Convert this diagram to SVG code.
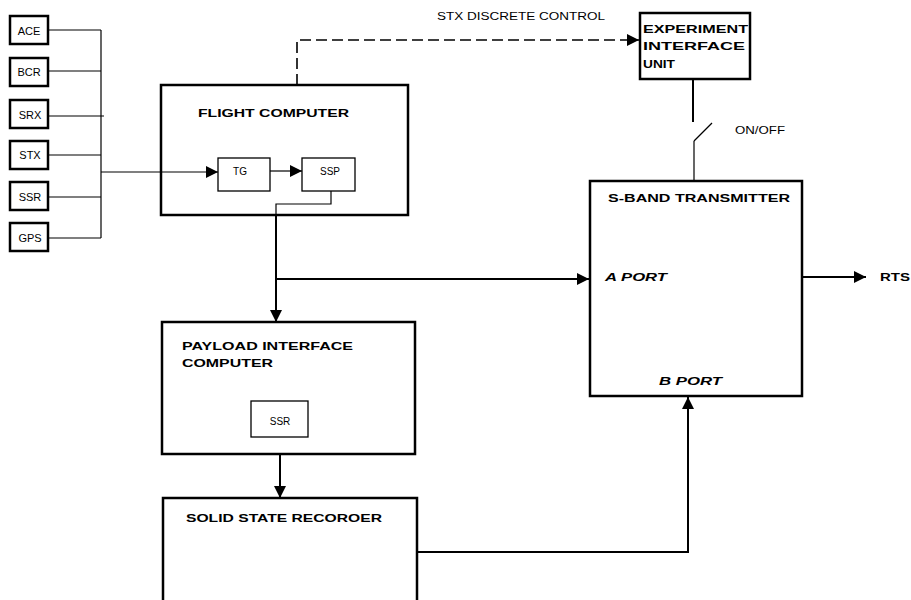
<svg xmlns="http://www.w3.org/2000/svg" width="911" height="600" viewBox="0 0 911 600">
<defs>
<style>
.box{fill:#fff;stroke:#000;stroke-width:2.5}
.ibox{fill:#fff;stroke:#000;stroke-width:1.3}
.sbox{fill:#fff;stroke:#000;stroke-width:2.5}
.t{font-family:"Liberation Sans",Arial,sans-serif;fill:#000}
.h{font-weight:bold;font-size:11.5px}
.s{font-size:10px}
.l{font-size:11px}
.it{font-weight:bold;font-style:italic;font-size:11px}
.c{fill:none;stroke:#000;stroke-width:2}
.cn{fill:none;stroke:#000;stroke-width:1.2}
.d{fill:none;stroke:#000;stroke-width:1.6;stroke-dasharray:11 5}
</style>
<marker id="ah" markerUnits="userSpaceOnUse" markerWidth="12" markerHeight="12" viewBox="0 0 12 12" refX="12" refY="6" orient="auto">
<path d="M0,0 L12,6 L0,12 Z" fill="#000"/>
</marker>
</defs>
<rect width="911" height="600" fill="#fff"/>

<g id="ace"><rect class="sbox" x="10" y="16" width="38" height="28"/><text class="t l" x="29" y="35" text-anchor="middle">ACE</text></g>
<g id="bcr"><rect class="sbox" x="10" y="58" width="38" height="28"/><text class="t l" x="29" y="76" text-anchor="middle">BCR</text></g>
<g id="srx"><rect class="sbox" x="10" y="100" width="38" height="28"/><text class="t l" x="30" y="119" text-anchor="middle">SRX</text></g>
<g id="stx"><rect class="sbox" x="10" y="141" width="38" height="28"/><text class="t l" x="30" y="159" text-anchor="middle">STX</text></g>
<g id="ssr-sensor"><rect class="sbox" x="10" y="182" width="38" height="28"/><text class="t l" x="30" y="201" text-anchor="middle">SSR</text></g>
<g id="gps"><rect class="sbox" x="10" y="223" width="38" height="28"/><text class="t l" x="30" y="242" text-anchor="middle">GPS</text></g>

<g id="flight-computer">
<rect class="box" x="161" y="85" width="247" height="130"/>
<text class="t h" x="198" y="117" textLength="151" lengthAdjust="spacingAndGlyphs">FLIGHT COMPUTER</text>
</g>
<g id="tg"><rect class="ibox" x="218" y="158" width="52" height="33"/><text class="t s" x="240" y="175" text-anchor="middle">TG</text></g>
<g id="ssp"><rect class="ibox" x="302" y="158" width="53" height="33"/><text class="t s" x="330" y="175" text-anchor="middle">SSP</text></g>

<text class="t s" x="437" y="20" textLength="168" lengthAdjust="spacingAndGlyphs">STX DISCRETE CONTROL</text>

<g id="experiment-interface-unit">
<rect class="box" x="640" y="13" width="110" height="66"/>
<text class="t h" x="643" y="33" textLength="105" lengthAdjust="spacingAndGlyphs">EXPERIMENT</text>
<text class="t h" x="643" y="50" textLength="102" lengthAdjust="spacingAndGlyphs">INTERFACE</text>
<text class="t h" x="643" y="68" textLength="32" lengthAdjust="spacingAndGlyphs">UNIT</text>
</g>

<text class="t s" x="735" y="134" textLength="50" lengthAdjust="spacingAndGlyphs">ON/OFF</text>

<g id="s-band-transmitter">
<rect class="box" x="590" y="181" width="212" height="215"/>
<text class="t h" x="608" y="202" textLength="182" lengthAdjust="spacingAndGlyphs">S-BAND TRANSMITTER</text>
<text class="t it" x="605" y="281" textLength="62" lengthAdjust="spacingAndGlyphs">A PORT</text>
<text class="t it" x="659" y="385" textLength="63" lengthAdjust="spacingAndGlyphs">B PORT</text>
</g>

<text class="t h" x="880" y="281" textLength="30" lengthAdjust="spacingAndGlyphs">RTS</text>

<g id="payload-interface-computer">
<rect class="box" x="162" y="322" width="253" height="132"/>
<text class="t h" x="182" y="350" textLength="171" lengthAdjust="spacingAndGlyphs">PAYLOAD INTERFACE</text>
<text class="t h" x="182" y="367" textLength="91" lengthAdjust="spacingAndGlyphs">COMPUTER</text>
</g>
<g id="ssr-inner"><rect class="ibox" x="251" y="401" width="57" height="36"/><text class="t s" x="280" y="425" text-anchor="middle">SSR</text></g>

<g id="solid-state-recorder">
<rect class="box" x="163" y="498" width="254" height="110"/>
<text class="t h" x="186" y="522" textLength="196" lengthAdjust="spacingAndGlyphs">SOLID STATE RECOROER</text>
</g>

<g id="connectors">
<g id="sensor-bus">
<line class="cn" x1="48" y1="30" x2="101" y2="30"/>
<line class="cn" x1="48" y1="71" x2="101" y2="71"/>
<line class="cn" x1="48" y1="116" x2="104" y2="116"/>
<line class="cn" x1="48" y1="155" x2="101" y2="155"/>
<line class="cn" x1="48" y1="197" x2="101" y2="197"/>
<line class="cn" x1="48" y1="238" x2="101" y2="238"/>
<line class="cn" x1="101" y1="30" x2="101" y2="238"/>
<line class="cn" x1="101" y1="172" x2="218" y2="172" marker-end="url(#ah)"/>
</g>
<line class="cn" x1="270" y1="171" x2="302" y2="171" marker-end="url(#ah)"/>
<polyline class="cn" points="331,191 331,204 276,204 276,215"/>
<line class="c" x1="276" y1="215" x2="276" y2="322" marker-end="url(#ah)"/>
<line class="c" x1="276" y1="279" x2="589" y2="279" marker-end="url(#ah)"/>
<polyline class="d" points="297,85 297,40 639,40" marker-end="url(#ah)"/>
<line class="c" x1="693" y1="80" x2="693" y2="122"/>
<line class="cn" x1="694" y1="141" x2="712" y2="123"/>
<line class="cn" x1="694" y1="141" x2="694" y2="181"/>
<line class="c" x1="280" y1="454" x2="280" y2="498" marker-end="url(#ah)"/>
<polyline class="c" points="417,552 688,552 688,397" marker-end="url(#ah)"/>
<line class="c" x1="802" y1="277" x2="866" y2="277" marker-end="url(#ah)"/>
</g>
</svg>
